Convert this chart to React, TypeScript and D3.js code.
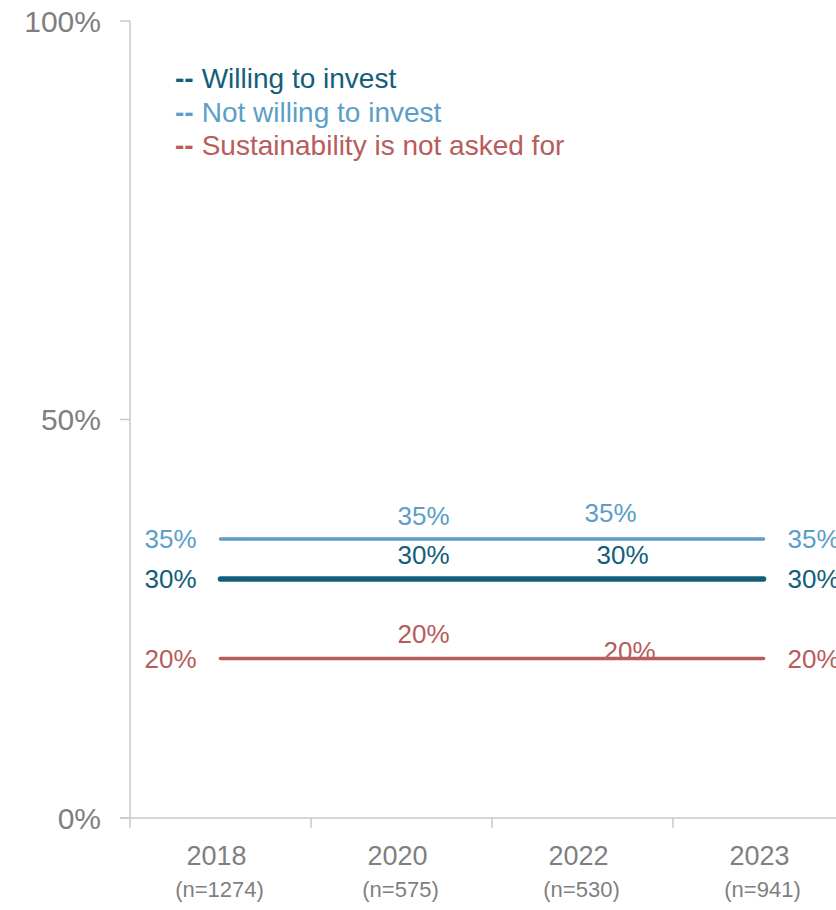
import React from "react";
import * as d3 from "d3";

const years = ["2018", "2020", "2022", "2023"];
const sampleSizes = ["(n=1274)", "(n=575)", "(n=530)", "(n=941)"];
const yTicks = [0, 50, 100];

const seriesNames = ["Willing to invest", "Not willing to invest", "Sustainability is not asked for"];
const willing = [30, 30, 30, 30];
const notWilling = [35, 35, 35, 35];
const notAsked = [20, 20, 20, 20];

// label nudges for the middle points [dx, dy] per series, per year index 1 and 2
const midNudgeWilling = [[22, -24], [40, -24]];
const midNudgeNotWilling = [[22, -23], [28, -26]];
const midNudgeNotAsked = [[22, -25], [47, -8]];

const W = 836;
const H = 910;
const FONT = "'Liberation Sans', Arial, Helvetica, sans-serif";
const GREY = "#7f7f7f";
const AXIS = "#c8c8c8";

export default function App() {
  const x = d3.scaleBand<string>().domain(years).range([130, 854]).paddingInner(0).paddingOuter(0);
  const y = d3.scaleLinear().domain([0, 100]).range([818, 21]);
  const cx = (d: string) => (x(d) as number) + x.bandwidth() / 2;

  const series = [
    { name: seriesNames[1], values: notWilling, color: "#5b9ec8", width: 3.5, nudge: midNudgeNotWilling },
    { name: seriesNames[0], values: willing, color: "#135e7a", width: 5.5, nudge: midNudgeWilling },
    { name: seriesNames[2], values: notAsked, color: "#b85c5c", width: 3.5, nudge: midNudgeNotAsked },
  ];
  const legendOrder = [
    { name: seriesNames[0], color: "#135e7a" },
    { name: seriesNames[1], color: "#5b9ec8" },
    { name: seriesNames[2], color: "#b85c5c" },
  ];

  const line = d3
    .line<number>()
    .x((_, i) => cx(years[i]))
    .y((v) => y(v));

  const tickXs = years.map((d) => x(d) as number);

  return (
    <svg
      width={W}
      height={H}
      style={{ position: "absolute", left: 0, top: 0, background: "#fff" }}
      fontFamily={FONT}
    >
      {/* y axis */}
      <line x1={130} x2={130} y1={y(100)} y2={y(0)} stroke={AXIS} strokeWidth={1.5} />
      {yTicks.map((t) => (
        <g key={t}>
          <line x1={120} x2={130} y1={y(t)} y2={y(t)} stroke={AXIS} strokeWidth={1.5} />
          <text x={101} y={y(t)} dy="0.35em" textAnchor="end" fontSize={30} fill={GREY}>
            {t}%
          </text>
        </g>
      ))}
      {/* x axis */}
      <line x1={120} x2={W} y1={y(0)} y2={y(0)} stroke={AXIS} strokeWidth={1.5} />
      {tickXs.map((tx, i) => (
        <line key={i} x1={tx} x2={tx} y1={y(0)} y2={y(0) + 10} stroke={AXIS} strokeWidth={1.5} />
      ))}
      {years.map((d, i) => (
        <g key={d}>
          <text x={cx(d) - 4} y={865} textAnchor="middle" fontSize={27} fill={GREY}>
            {d}
          </text>
          <text x={cx(d) - 1} y={897} textAnchor="middle" fontSize={22} fill={GREY}>
            {sampleSizes[i]}
          </text>
        </g>
      ))}

      {/* series lines */}
      {series.map((s) => (
        <path
          key={s.name}
          d={line(s.values) as string}
          fill="none"
          stroke={s.color}
          strokeWidth={s.width}
          strokeLinecap="round"
        />
      ))}

      {/* value labels */}
      {series.map((s) => (
        <g key={s.name + "-labels"} fill={s.color} fontSize={26}>
          <text x={cx(years[0]) - 24} y={y(s.values[0])} dy="0.35em" textAnchor="end">
            {s.values[0]}%
          </text>
          <text x={cx(years[3]) + 24} y={y(s.values[3])} dy="0.35em" textAnchor="start">
            {s.values[3]}%
          </text>
          {[1, 2].map((i, k) => (
            <text
              key={i}
              x={cx(years[i]) + s.nudge[k][0]}
              y={y(s.values[i]) + s.nudge[k][1]}
              dy="0.35em"
              textAnchor="middle"
            >
              {s.values[i]}%
            </text>
          ))}
        </g>
      ))}

      {/* legend */}
      {legendOrder.map((l, i) => (
        <text key={l.name} x={175} y={88 + i * 33.5} fontSize={28} fill={l.color}>
          <tspan fontWeight="bold">--</tspan>
          <tspan dx={8}>{l.name}</tspan>
        </text>
      ))}
    </svg>
  );
}
